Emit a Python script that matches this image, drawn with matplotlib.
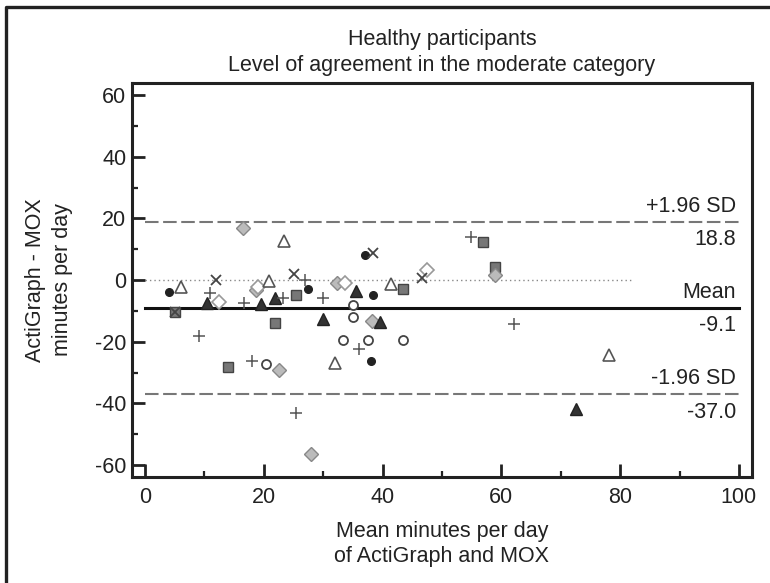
import numpy as np
from matplotlib import pyplot as plt
from matplotlib.lines import Line2D

plt.rcParams['font.family'] = ['Liberation Sans', 'DejaVu Sans']
plt.rcParams['axes.unicode_minus'] = False

#Datos (media, diferencia) por simbolo
circ_lleno_x = [4.0, 27.4, 37.0, 38.4, 38.0]
circ_lleno_y = [-4.0, -2.9, 8.1, -4.9, -26.3]

circ_vacio_x = [35.0, 35.0, 33.4, 37.5, 43.4, 20.4]
circ_vacio_y = [-8.1, -12.1, -19.4, -19.4, -19.4, -27.2]

tri_lleno_x = [10.5, 19.5, 21.9, 29.9, 35.6, 39.6, 72.5]
tri_lleno_y = [-7.6, -7.8, -5.9, -12.6, -3.5, -13.5, -41.7]

tri_vacio_x = [6.0, 20.9, 23.4, 32.0, 41.4, 78.1]
tri_vacio_y = [-2.4, -0.2, 12.8, -26.8, -1.3, -24.4]

cruz_x = [12.0, 25.0, 38.4, 46.6, 5.0]
cruz_y = [0.0, 1.8, 8.9, 0.7, -10.3]

mas_x = [10.9, 16.6, 23.2, 26.9, 30.0, 9.1, 18.0, 25.5, 36.1, 54.9, 62.1]
mas_y = [-4.1, -7.4, -5.7, 0.0, -5.9, -18.1, -26.4, -43.2, -22.3, 14.1, -14.3]

cuad_x = [5.0, 25.4, 21.9, 13.9, 43.4, 56.9, 58.9]
cuad_y = [-10.3, -4.9, -14.1, -28.1, -3.0, 12.2, 4.1]

diam_gris_x = [16.5, 18.7, 32.4, 38.3, 22.6, 28.0, 58.9]
diam_gris_y = [17.0, -3.2, -1.1, -13.2, -29.2, -56.3, 1.6]

diam_vacio_x = [12.5, 19.1, 33.7, 47.4]
diam_vacio_y = [-7.2, -2.4, -1.1, 3.2]

#Limites de acuerdo
media = -9.1
sd_sup = 18.8
sd_inf = -37.0

fs = 15.5
tc = '#222222'

#Creamos figura
fig = plt.figure(figsize=(7.7, 5.83), dpi=100)
ax = fig.add_axes([0.1714, 0.1818, 0.8052, 0.6758])

#Lineas de referencia
ax.plot([0, 82], [0, 0], color='#888888', lw=1.0, dashes=(1, 2.2), zorder=1)
ax.plot([0, 100], [media, media], color='#111111', lw=2.2, zorder=1)
ax.plot([0, 100], [sd_sup, sd_sup], color='#777777', lw=1.5, dashes=(6.5, 2.2), zorder=1)
ax.plot([0, 100], [sd_inf, sd_inf], color='#777777', lw=1.5, dashes=(6.5, 2.2), zorder=1)

#Graficamos los puntos
ax.plot(cuad_x, cuad_y, 's', ms=7.0, mfc='#777777', mec='#444444', mew=1.0, zorder=3)
ax.plot(diam_gris_x, diam_gris_y, 'D', ms=7.0, mfc='#bbbbbb', mec='#888888', mew=1.0, zorder=3)
ax.plot(diam_vacio_x, diam_vacio_y, 'D', ms=7.0, mfc='white', mec='#999999', mew=1.2, zorder=3)
ax.plot(circ_vacio_x, circ_vacio_y, 'o', ms=6.5, mfc='white', mec='#444444', mew=1.3, zorder=3)
ax.plot(circ_lleno_x, circ_lleno_y, 'o', ms=5.5, mfc='#222222', mec='#222222', zorder=3)
ax.plot(tri_vacio_x, tri_vacio_y, '^', ms=8.5, mfc='white', mec='#555555', mew=1.2, zorder=3)
ax.plot(tri_lleno_x, tri_lleno_y, '^', ms=8.0, mfc='#333333', mec='#222222', zorder=3)
ax.plot(cruz_x, cruz_y, 'x', ms=7.0, mec='#444444', mew=1.3, zorder=4)
ax.plot(mas_x, mas_y, '+', ms=8.5, mec='#555555', mew=1.1, zorder=4)

#Textos de las lineas
ax.text(99.5, sd_sup + 3.3, '+1.96 SD', ha='right', va='baseline', fontsize=fs, color=tc)
ax.text(99.5, sd_sup - 7.6, '%.1f' % sd_sup, ha='right', va='baseline', fontsize=fs, color=tc)
ax.text(99.5, media + 3.3, 'Mean', ha='right', va='baseline', fontsize=fs, color=tc)
ax.text(99.5, media - 7.6, '%.1f' % media, ha='right', va='baseline', fontsize=fs, color=tc)
ax.text(99.5, sd_inf + 3.3, '-1.96 SD', ha='right', va='baseline', fontsize=fs, color=tc)
ax.text(99.5, sd_inf - 7.6, '%.1f' % sd_inf, ha='right', va='baseline', fontsize=fs, color=tc)

#Ejes
ax.set_xlim(-2.2, 102.2)
ax.set_ylim(-63.9, 63.9)
ax.set_xticks(np.arange(0, 101, 20))
ax.set_xticks(np.arange(10, 100, 20), minor=True)
ax.set_yticks(np.arange(-60, 61, 20))
ax.set_yticks(np.arange(-50, 60, 20), minor=True)
ax.tick_params(which='major', direction='in', length=9.5, width=2.0, color='#222222',
               labelsize=fs, labelcolor=tc)
ax.tick_params(which='minor', direction='in', length=4.5, width=1.6, color='#222222')
ax.tick_params(axis='x', which='major', pad=7)
ax.tick_params(axis='y', which='major', pad=4)
for s in ax.spines.values():
    s.set_linewidth(2.2)
    s.set_color('#222222')

#Titulo y etiquetas
fig.text(442/770, 1 - 40/583, 'Healthy participants', ha='center', va='center', fontsize=fs, color=tc)
fig.text(442/770, 1 - 66/583, 'Level of agreement in the moderate category', ha='center', va='center',
         fontsize=fs, color=tc)
fig.text(49/770, 1 - 280/583, 'ActiGraph - MOX\nminutes per day', ha='center', va='center',
         rotation=90, fontsize=fs, color=tc, linespacing=1.4)
fig.text(442/770, 1 - 544/583, 'Mean minutes per day\nof ActiGraph and MOX', ha='center', va='center',
         fontsize=fs, color=tc, linespacing=1.2)

#Marco exterior
fig.add_artist(Line2D([6/770, 6/770, 1.0], [0.0, 1 - 7/583, 1 - 7/583], transform=fig.transFigure,
                      color='#222222', lw=2.4))

plt.savefig('out.png')
